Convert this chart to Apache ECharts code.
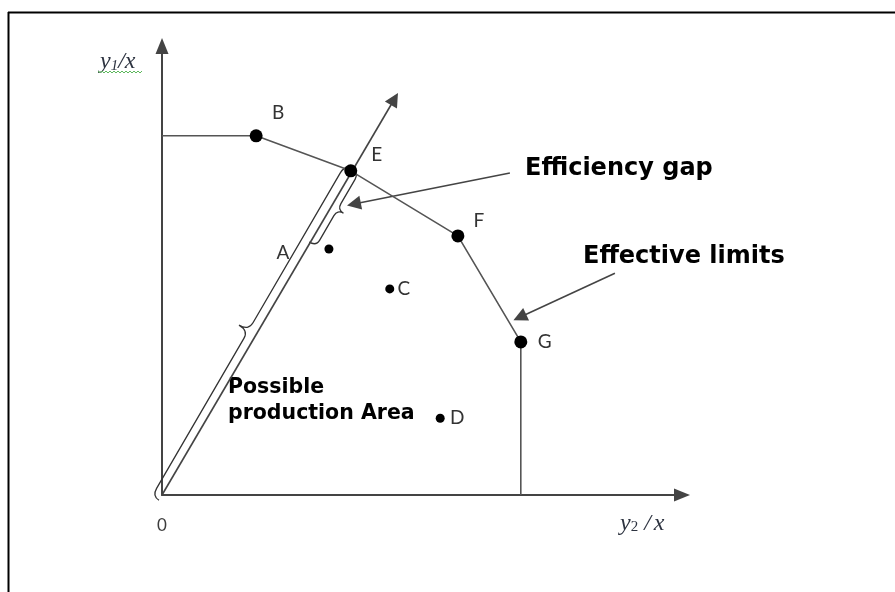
<!DOCTYPE html>
<html>
<head>
<meta charset="utf-8">
<script src="https://cdn.jsdelivr.net/npm/echarts@6/dist/echarts.min.js"></script>
<style>
html,body{margin:0;padding:0;background:#fff;}
#chart{width:895px;height:592px;}
</style>
</head>
<body>
<div id="chart"></div>
<script>
// ---- data ----
const frontierLabels = ['', 'B', 'E', 'F', 'G', ''];
const frontierX = [0, 1.81, 3.63, 5.69, 6.90, 6.90];
const frontierY = [8.00, 8.00, 7.22, 5.77, 3.41, 0];
const pointLabels = ['A', 'C', 'D'];
const pointX = [3.21, 4.38, 5.35];
const pointY = [5.48, 4.59, 1.71];
const rayStart = [0, 0];
const rayEnd = [4.47, 8.82];
const gapArrowStart = [6.69, 7.17];
const gapArrowEnd = [3.69, 6.48];
const limitArrowStart = [8.71, 4.94];
const limitArrowEnd = [6.88, 3.96];
const annotationTexts = ['Efficiency gap', 'Effective limits'];
const areaText = ['Possible', 'production Area'];

// ---- styles ----
const labelOffset = {B:[22,-23], E:[26,-16], F:[21,-15], G:[24,0], A:[-46,4], C:[14,0], D:[17,0]};
const lblFont = {fontFamily:'Lato, "Open Sans", sans-serif', fontSize:19, color:'#333'};
const boldFont = '"DejaVu Sans", Verdana, sans-serif';
const lineCol = '#555';
const axisCol = '#444';

const chart = echarts.init(document.getElementById('chart'));

function lbl(name){
  return {show:true, position:'inside', offset:labelOffset[name], formatter:name, ...lblFont};
}

const frontierData = frontierX.map((x,i)=>{
  const nm = frontierLabels[i];
  return nm ? {value:[x, frontierY[i]], name:nm, symbol:'circle', label:lbl(nm)}
            : {value:[x, frontierY[i]], symbol:'none', label:{show:false}};
});
const pointData = pointX.map((x,i)=>({value:[x, pointY[i]], name:pointLabels[i], label:lbl(pointLabels[i])}));

function braceRender(params, api){
  const O = api.coord(rayStart);
  const E = api.coord([api.value(0), api.value(1)]);
  const A = api.coord([api.value(2), api.value(3)]);
  const dx = E[0]-O[0], dy = E[1]-O[1];
  const L = Math.hypot(dx, dy);
  const u = [dx/L, dy/L];
  const n = [u[1], -u[0]];
  const P = (s,p)=>[(O[0]+s*u[0]+p*n[0]).toFixed(1), (O[1]+s*u[1]+p*n[1]).toFixed(1)].join(',');
  const tA = (A[0]-O[0])*u[0] + (A[1]-O[1])*u[1];
  function brace(t0, t1, d, h, r){
    const tm = (t0+t1)/2;
    return 'M'+P(t0,0)+' Q'+P(t0,d)+' '+P(t0+r,d)+' L'+P(tm-r,d)+' Q'+P(tm,d)+' '+P(tm,h)+
           ' Q'+P(tm,d)+' '+P(tm+r,d)+' L'+P(t1-r,d)+' Q'+P(t1,d)+' '+P(t1,0);
  }
  const style = {stroke:'#333', lineWidth:1.3, fill:null};
  return {type:'group', children:[
    {type:'path', shape:{pathData:brace(-6, L+2, 8, 19, 9)}, style:style},
    {type:'path', shape:{pathData:brace(tA-4, L+2, -8, -15, 7)}, style:style}
  ]};
}

const option = {
  animation:false,
  backgroundColor:'#fff',
  grid:{left:162, right:213, top:46, bottom:97},
  xAxis:{type:'value', min:0, max:10, interval:5,
    axisLine:{show:true, symbol:['none','triangle'], symbolSize:[13,16], lineStyle:{color:axisCol, width:2}},
    axisTick:{show:false}, splitLine:{show:false},
    axisLabel:{show:true, margin:22, formatter:v=> v===0 ? '0' : '', ...lblFont, fontSize:17, color:'#3d3d3d'}},
  yAxis:{type:'value', min:0, max:10, interval:5,
    axisLine:{show:true, symbol:['none','triangle'], symbolSize:[13,16], lineStyle:{color:axisCol, width:2}},
    axisTick:{show:false}, splitLine:{show:false}, axisLabel:{show:false}},
  series:[
    {type:'custom', renderItem:braceRender, data:[[frontierX[2], frontierY[2], pointX[0], pointY[0]]], z:2, silent:true},
    {type:'lines', coordinateSystem:'cartesian2d', z:3,
      symbol:['none','triangle'], symbolSize:[11,14],
      lineStyle:{color:axisCol, width:1.6, opacity:1},
      data:[{coords:[rayStart, rayEnd]}, {coords:[gapArrowStart, gapArrowEnd]}, {coords:[limitArrowStart, limitArrowEnd]}]},
    {type:'line', data:frontierData, z:4, symbolSize:13,
      itemStyle:{color:'#000'}, lineStyle:{color:lineCol, width:1.6}},
    {type:'scatter', data:pointData, z:4, symbolSize:9, itemStyle:{color:'#000', opacity:1}}
  ],
  graphic:[
    {type:'line', shape:{x1:8, y1:12.5, x2:895, y2:12.5}, style:{stroke:'#000', lineWidth:2}},
    {type:'line', shape:{x1:8.5, y1:12, x2:8.5, y2:592}, style:{stroke:'#000', lineWidth:2}},
    {type:'text', left:525, top:157, style:{text:annotationTexts[0], font:'bold 24px '+boldFont, fill:'#000'}},
    {type:'text', left:583, top:245, style:{text:annotationTexts[1], font:'bold 24px '+boldFont, fill:'#000'}},
    {type:'text', left:228, top:377, style:{text:areaText[0], font:'bold 20.5px '+boldFont, fill:'#000'}},
    {type:'text', left:228, top:403, style:{text:areaText[1], font:'bold 20.5px '+boldFont, fill:'#000'}},
    {type:'text', left:100, top:50, style:{text:'{i|y}{s|1}{i|/x}', rich:{i:{font:'italic 24px "Liberation Serif", serif', fill:'#2d3340'}, s:{font:'italic 15px "Liberation Serif", serif', fill:'#2d3340', padding:[9,0,0,0]}}}},
    {type:'polyline', shape:{points:[[98,71],[100,73],[102,71],[104,73],[106,71],[108,73],[110,71],[112,73],[114,71],[116,73],[118,71],[120,73],[122,71],[124,73],[126,71],[128,73],[130,71],[132,73],[134,71],[136,73],[138,71],[140,73],[142,71]]}, style:{stroke:'#5cb85c', lineWidth:1}},
    {type:'text', left:620, top:512, style:{text:'{i|y}{s|2}{m| /}{i|x}', rich:{i:{font:'italic 24px "Liberation Serif", serif', fill:'#2d3340'}, m:{font:'italic 24px "Liberation Serif", serif', fill:'#2d3340', padding:[0,3,0,0]}, s:{font:'15px "Liberation Serif", serif', fill:'#2d3340', padding:[7,0,0,0]}}}}
  ]
};
chart.setOption(option);
</script>
</body>
</html>
